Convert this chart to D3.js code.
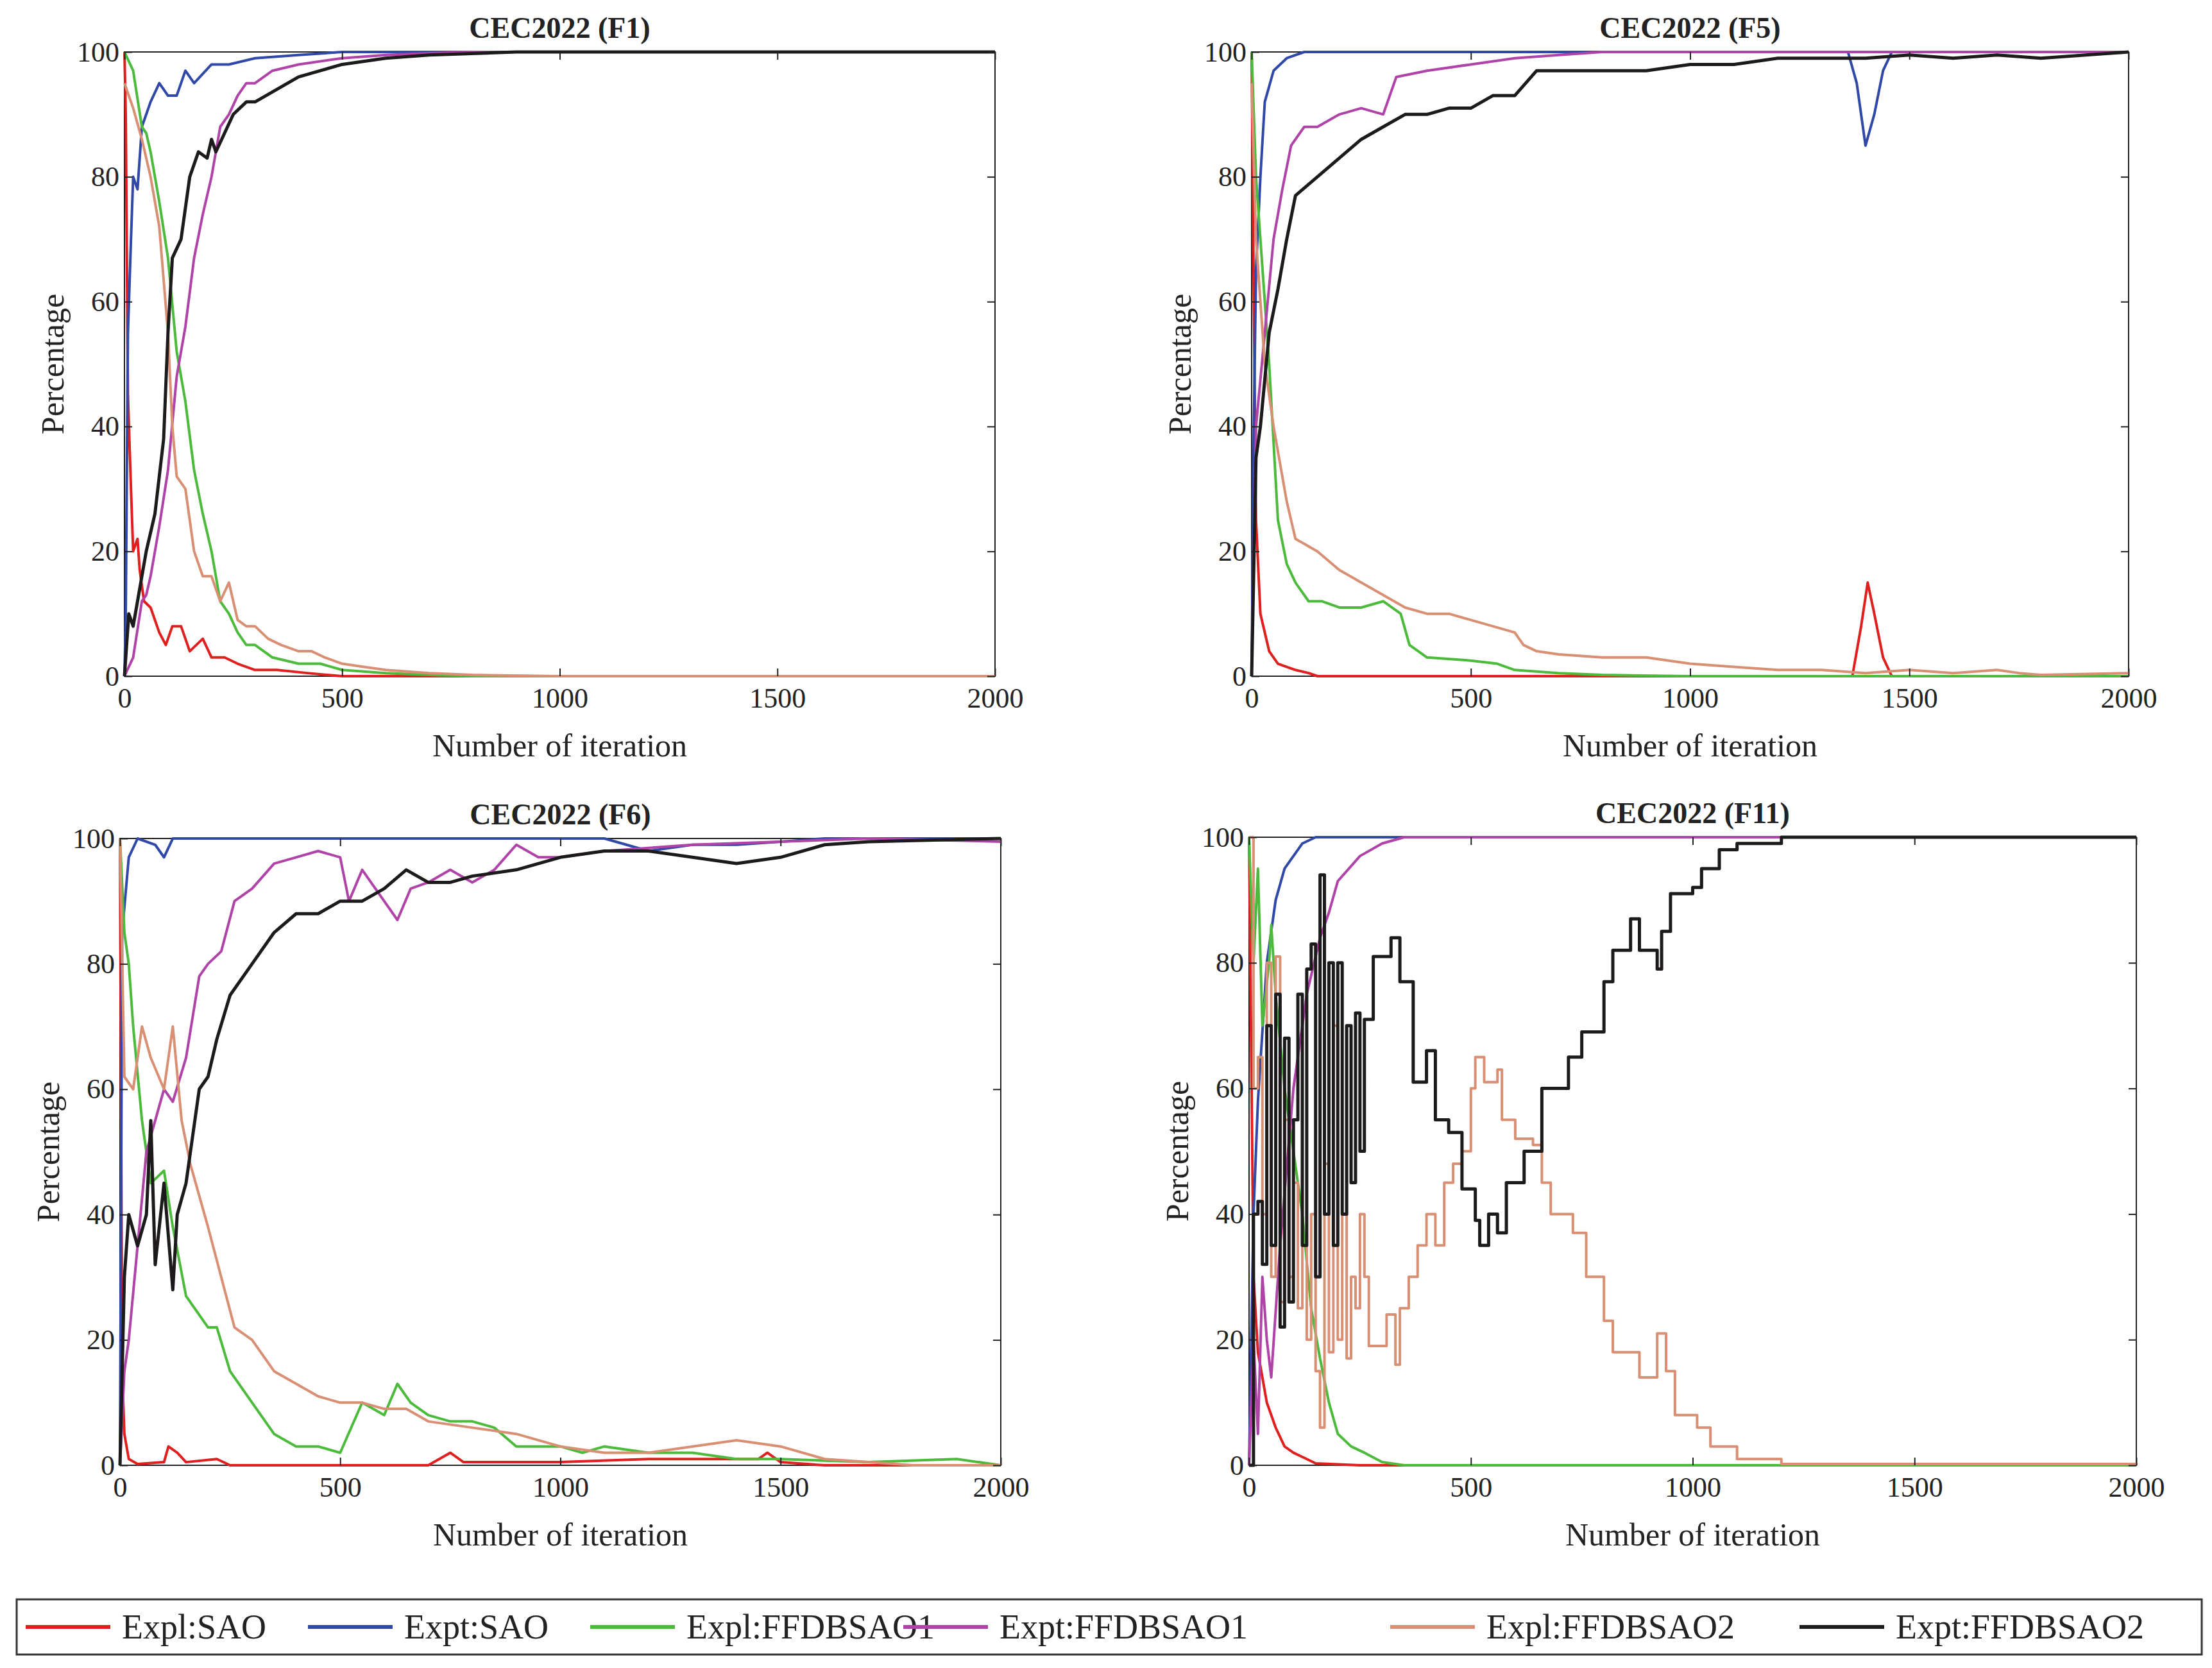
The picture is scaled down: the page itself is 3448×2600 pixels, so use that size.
<!DOCTYPE html>
<html><head><meta charset="utf-8">
<script src="https://cdn.jsdelivr.net/npm/d3@7"></script>
<style>body{margin:0;background:#fff}text{font-family:"Liberation Serif","Times New Roman",serif}</style>
</head><body><svg id="chart" width="3448" height="2600"></svg>
<script>
const xTicks = [0, 500, 1000, 1500, 2000];
const yTicks = [0, 20, 40, 60, 80, 100];
const seriesNames = ["Expl:SAO", "Expt:SAO", "Expl:FFDBSAO1", "Expt:FFDBSAO1", "Expl:FFDBSAO2", "Expt:FFDBSAO2"];
const colors = ["#e0201f", "#3048a8", "#4cbb3c", "#b043a8", "#d98f73", "#1c1a1a"];

const f1 = [
  [[0,100],[3,90],[8,45],[15,30],[20,20],[30,22],[35,17],[45,12],[60,11],[80,7],[95,5],[110,8],[130,8],[150,4],[180,6],[200,3],[230,3],[260,2],[300,1],[350,1],[420,0.5],[500,0],[2000,0]],
  [[0,0],[3,10],[8,55],[15,70],[20,80],[30,78],[40,88],[60,92],[80,95],[100,93],[120,93],[140,97],[160,95],[200,98],[240,98],[300,99],[400,99.5],[500,100],[2000,100]],
  [[0,100],[20,97],[40,88],[50,87],[60,84],[80,76],[100,67],[120,52],[140,44],[160,33],[180,26],[200,20],[220,12],[240,10],[260,7],[280,5],[300,5],[320,4],[340,3],[400,2],[450,2],[500,1],[600,0.5],[700,0.2],[800,0],[2000,0]],
  [[0,0],[20,3],[40,12],[50,13],[60,16],[80,24],[100,33],[120,48],[140,56],[160,67],[180,74],[200,80],[220,88],[240,90],[260,93],[280,95],[300,95],[320,96],[340,97],[400,98],[500,99],[600,99.5],[700,99.8],[800,100],[2000,100]],
  [[0,95],[10,93],[20,91],[40,86],[60,80],[80,72],[100,55],[110,40],[120,32],[140,30],[160,20],[180,16],[200,16],[220,12],[240,15],[260,9],[280,8],[300,8],[330,6],[360,5],[400,4],[430,4],[460,3],[500,2],[550,1.5],[600,1],[700,0.5],[800,0.2],[1000,0],[2000,0]],
  [[0,0],[10,10],[20,8],[30,12],[50,20],[70,26],[90,38],[100,55],[110,67],[130,70],[150,80],[170,84],[190,83],[200,86],[210,84],[230,87],[250,90],[280,92],[300,92],[350,94],[400,96],[450,97],[500,98],[600,99],[700,99.5],[900,100],[2000,100]]
];
const f5 = [
  [[0,100],[5,60],[10,25],[20,10],[40,4],[60,2],[100,1],[130,0.5],[150,0],[1370,0],[1390,8],[1405,15],[1420,10],[1440,3],[1460,0],[2000,0]],
  [[0,0],[5,40],[10,65],[20,80],[30,92],[50,97],[80,99],[120,100],[1360,100],[1380,95],[1400,85],[1420,90],[1440,97],[1460,100],[2000,100]],
  [[0,100],[10,80],[20,70],[30,60],[40,50],[60,25],[80,18],[100,15],[130,12],[160,12],[200,11],[250,11],[300,12],[340,10],[360,5],[400,3],[500,2.5],[560,2],[600,1],[700,0.5],[800,0.2],[1000,0],[2000,0]],
  [[0,0],[10,40],[30,55],[50,70],[70,78],[90,85],[120,88],[150,88],[200,90],[250,91],[300,90],[330,96],[400,97],[500,98],[600,99],[700,99.5],[800,100],[2000,100]],
  [[0,95],[10,70],[30,50],[50,40],[80,28],[100,22],[150,20],[200,17],[250,15],[300,13],[350,11],[400,10],[450,10],[500,9],[550,8],[600,7],[620,5],[650,4],[700,3.5],[800,3],[900,3],[1000,2],[1100,1.5],[1200,1],[1300,1],[1400,0.5],[1500,1],[1600,0.5],[1700,1],[1750,0.5],[1800,0.2],[2000,0.5]],
  [[0,0],[10,35],[20,40],[40,55],[60,62],[80,70],[100,77],[150,80],[200,83],[250,86],[300,88],[350,90],[400,90],[450,91],[500,91],[550,93],[600,93],[650,97],[700,97],[800,97],[900,97],[1000,98],[1100,98],[1200,99],[1300,99],[1400,99],[1500,99.5],[1600,99],[1700,99.5],[1800,99],[2000,100]]
];
const f6 = [
  [[0,100],[5,15],[10,5],[20,1],[40,0.2],[100,0.5],[110,3],[130,2],[150,0.5],[220,1],[250,0],[700,0],[750,2],[780,0.5],[1000,0.5],[1200,1],[1300,1],[1450,1],[1470,2],[1500,0.5],[1600,0],[2000,0]],
  [[0,0],[5,85],[20,97],[40,100],[80,99],[100,97],[120,100],[200,100],[500,100],[1100,100],[1200,98],[1300,99],[1400,99],[1500,99.5],[1600,100],[2000,100]],
  [[0,100],[10,85],[20,80],[30,70],[50,55],[70,45],[100,47],[120,38],[150,27],[200,22],[220,22],[250,15],[300,10],[350,5],[400,3],[450,3],[500,2],[550,10],[600,8],[630,13],[660,10],[700,8],[750,7],[800,7],[850,6],[900,3],[1000,3],[1050,2],[1100,3],[1200,2],[1300,2],[1400,1],[1500,1],[1700,0.5],[1900,1],[2000,0]],
  [[0,0],[10,15],[20,20],[40,35],[60,50],[80,55],[100,60],[120,58],[150,65],[180,78],[200,80],[230,82],[260,90],[300,92],[350,96],[400,97],[450,98],[500,97],[520,90],[550,95],[600,90],[630,87],[660,92],[700,93],[750,95],[800,93],[850,95],[900,99],[950,97],[1000,97],[1100,98],[1300,99],[1500,99.5],[1700,100],[2000,99.5]],
  [[0,100],[10,62],[30,60],[50,70],[70,65],[100,60],[120,70],[140,55],[160,48],[180,43],[200,38],[230,30],[260,22],[300,20],[350,15],[400,13],[450,11],[500,10],[550,10],[600,9],[650,9],[700,7],[800,6],[900,5],[1000,3],[1100,2],[1200,2],[1300,3],[1400,4],[1500,3],[1600,1],[1700,0.5],[1800,0],[2000,0]],
  [[0,0],[10,30],[20,40],[40,35],[60,40],[70,55],[80,32],[100,45],[120,28],[130,40],[150,45],[180,60],[200,62],[220,68],[250,75],[300,80],[350,85],[400,88],[450,88],[500,90],[550,90],[600,92],[650,95],[700,93],[750,93],[800,94],[900,95],[1000,97],[1100,98],[1200,98],[1300,97],[1400,96],[1500,97],[1600,99],[1700,99.5],[2000,100]]
];
const f11 = [
  [[0,100],[10,30],[20,18],[40,10],[60,6],[80,3],[100,2],[130,1],[150,0.3],[250,0],[2000,0]],
  [[0,0],[10,40],[20,58],[40,80],[60,90],[80,95],[100,97],[120,99],[150,100],[2000,100]],
  [[0,100],[10,80],[20,95],[30,70],[45,80],[50,86],[60,75],[80,60],[100,50],[120,40],[140,25],[160,17],[180,10],[200,5],[230,3],[260,2],[300,0.5],[350,0],[2000,0]],
  [[0,0],[10,20],[20,5],[30,30],[40,20],[50,14],[70,35],[100,60],[130,75],[160,84],[180,88],[200,93],[250,97],[300,99],[350,100],[2000,100]],
  [[0,100],[10,60],[20,65],[30,40],[40,80],[50,30],[60,81],[70,26],[80,55],[90,30],[100,45],[110,25],[120,35],[130,20],[140,40],[150,15],[160,6],[170,48],[180,18],[190,70],[200,20],[210,40],[220,17],[230,30],[240,25],[250,40],[260,30],[270,19],[300,19],[310,24],[330,16],[340,25],[360,30],[380,35],[400,40],[420,35],[440,45],[460,48],[480,50],[500,60],[510,65],[530,61],[560,63],[570,55],[600,52],[640,51],[660,45],[680,40],[730,37],[760,30],[800,23],[820,18],[880,14],[920,21],[940,15],[960,8],[1010,6],[1040,3],[1100,1],[1200,0.2],[2000,0]],
  [[0,0],[10,40],[20,42],[30,32],[40,70],[50,35],[60,75],[70,22],[80,68],[90,26],[100,55],[110,75],[120,35],[130,79],[140,83],[150,30],[160,94],[170,40],[180,80],[190,35],[200,80],[210,40],[220,70],[230,45],[240,72],[250,50],[260,71],[280,81],[300,81],[320,84],[340,77],[370,61],[400,66],[420,55],[450,53],[480,44],[510,39],[520,35],[540,40],[560,37],[580,45],[620,50],[660,60],[700,60],[720,65],[750,69],[800,77],[820,82],[860,87],[880,82],[920,79],[930,85],[950,91],[1000,92],[1020,95],[1060,98],[1100,99],[1200,100],[2000,100]]
];

const panels = [
  {title: "CEC2022 (F1)", data: f1, x0: 194, x1: 1551, y0: 81, y1: 1054, step: false},
  {title: "CEC2022 (F5)", data: f5, x0: 1951, x1: 3318, y0: 81, y1: 1054, step: false},
  {title: "CEC2022 (F6)", data: f6, x0: 187, x1: 1560, y0: 1307, y1: 2284, step: false},
  {title: "CEC2022 (F11)", data: f11, x0: 1947, x1: 3330, y0: 1305, y1: 2284, step: true}
];

const svg = d3.select("#chart");

panels.forEach(p => {
  const x = d3.scaleLinear().domain([0, 2000]).range([p.x0, p.x1]);
  const y = d3.scaleLinear().domain([0, 100]).range([p.y1, p.y0]);
  const g = svg.append("g");

  g.append("rect").attr("x", p.x0).attr("y", p.y0)
    .attr("width", p.x1 - p.x0).attr("height", p.y1 - p.y0)
    .attr("fill", "none").attr("stroke", "#222").attr("stroke-width", 2);

  p.data.forEach((s, i) => {
    const line = d3.line().x(d => x(d[0])).y(d => y(d[1]))
      .curve(p.step && i >= 4 ? d3.curveStepAfter : d3.curveLinear);
    g.append("path").datum(s)
      .attr("d", line)
      .attr("fill", "none")
      .attr("stroke", colors[i])
      .attr("stroke-width", i === 5 ? 5 : 4)
      .attr("stroke-linejoin", "round");
  });

  const xa = g.append("g").attr("transform", `translate(0,${p.y1})`)
    .call(d3.axisBottom(x).tickValues(xTicks).tickSize(-12).tickPadding(18).tickFormat(d3.format("d")));
  const xt = g.append("g").attr("transform", `translate(0,${p.y0})`)
    .call(d3.axisTop(x).tickValues(xTicks).tickSize(-12).tickFormat(""));
  const ya = g.append("g").attr("transform", `translate(${p.x0},0)`)
    .call(d3.axisLeft(y).tickValues(yTicks).tickSize(-12).tickPadding(8));
  const yr = g.append("g").attr("transform", `translate(${p.x1},0)`)
    .call(d3.axisRight(y).tickValues(yTicks).tickSize(-12).tickFormat(""));
  [xa, xt, ya, yr].forEach(a => {
    a.attr("font-family", null);
    a.select(".domain").remove();
    a.selectAll("line").attr("stroke", "#222").attr("stroke-width", 2);
    a.selectAll("text").attr("font-size", 44).attr("fill", "#222");
  });

  g.append("text").attr("x", (p.x0 + p.x1) / 2).attr("y", p.y0 - 22)
    .attr("text-anchor", "middle").attr("font-size", 46).attr("font-weight", "bold")
    .attr("fill", "#222").text(p.title);
  g.append("text").attr("x", (p.x0 + p.x1) / 2).attr("y", p.y1 + 125)
    .attr("text-anchor", "middle").attr("font-size", 50).attr("fill", "#222")
    .text("Number of iteration");
  g.append("text").attr("transform", `translate(${p.x0 - 95},${(p.y0 + p.y1) / 2}) rotate(-90)`)
    .attr("text-anchor", "middle").attr("font-size", 50).attr("fill", "#222")
    .text("Percentage");
});

// legend
const lg = svg.append("g");
lg.append("rect").attr("x", 26).attr("y", 2493).attr("width", 3406).attr("height", 86)
  .attr("fill", "#fff").attr("stroke", "#333").attr("stroke-width", 3);
const legendX = [40, 480, 920, 1408, 2167, 2805];
seriesNames.forEach((n, i) => {
  const lx = legendX[i];
  lg.append("line").attr("x1", lx).attr("x2", lx + 132).attr("y1", 2536).attr("y2", 2536)
    .attr("stroke", colors[i]).attr("stroke-width", 6);
  lg.append("text").attr("x", lx + 150).attr("y", 2554).attr("font-size", 54)
    .attr("fill", "#222").text(n);
});
</script></body></html>
